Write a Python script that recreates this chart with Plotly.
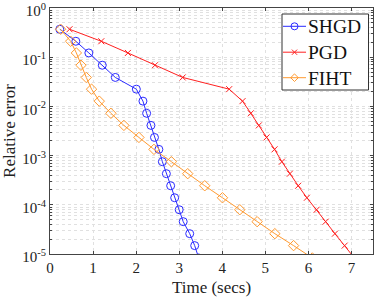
import plotly.graph_objects as go

# ---- data ----
shgd_t = [0.228, 0.600, 0.902, 1.214, 1.516, 2.005, 2.158, 2.244, 2.344, 2.426,
          2.528, 2.609, 2.702, 2.802, 2.895, 3.000, 3.093, 3.244, 3.360, 3.453]
shgd_err = [3.70e-1, 2.11e-1, 1.22e-1, 6.87e-2, 3.88e-2, 2.24e-2, 1.28e-2, 7.24e-3,
            4.11e-3, 2.34e-3, 1.34e-3, 7.52e-4, 4.29e-4, 2.44e-4, 1.39e-4, 7.94e-5,
            4.54e-5, 2.59e-5, 1.48e-5, 8.3e-6]

pgd_t = [0.453, 1.191, 1.809, 2.437, 3.081, 4.160, 4.470, 4.663, 4.849, 5.028,
         5.214, 5.384, 5.570, 5.763, 5.965, 6.191, 6.400, 6.616, 6.842, 7.067]
pgd_err = [3.70e-1, 2.11e-1, 1.22e-1, 6.87e-2, 3.88e-2, 2.24e-2, 1.28e-2, 7.24e-3,
           4.11e-3, 2.34e-3, 1.34e-3, 7.52e-4, 4.29e-4, 2.44e-4, 1.39e-4, 7.94e-5,
           4.54e-5, 2.59e-5, 1.48e-5, 8.3e-6]

fiht_t = [0.247, 0.479, 0.612, 0.719, 0.842, 0.965, 1.144, 1.414, 1.716, 2.065,
          2.414, 2.819, 3.198, 3.593, 4.005, 4.407, 4.809, 5.221, 5.656, 6.091]
fiht_err = [3.70e-1, 2.11e-1, 1.22e-1, 6.87e-2, 3.88e-2, 2.24e-2, 1.28e-2, 7.24e-3,
            4.11e-3, 2.34e-3, 1.34e-3, 7.52e-4, 4.29e-4, 2.44e-4, 1.39e-4, 7.94e-5,
            4.54e-5, 2.59e-5, 1.48e-5, 8.3e-6]

series_names = ["SHGD", "PGD", "FIHT"]

x_ticks = [0, 1, 2, 3, 4, 5, 6, 7]
y_ticks = [1, 1e-1, 1e-2, 1e-3, 1e-4, 1e-5]
y_tick_labels = ["10<sup>0</sup>", "10<sup>-1</sup>", "10<sup>-2</sup>",
                 "10<sup>-3</sup>", "10<sup>-4</sup>", "10<sup>-5</sup>"]

BLUE = "#2b2bff"
RED = "#ff2020"
ORANGE = "#ff9a30"
SERIF = "Liberation Serif, serif"
TXT = "#222222"
AX = "#444444"
colors = [BLUE, RED, ORANGE]
symbols = ["circle-open", "x-thin-open", "diamond-open"]
sizes = [8, 6, 8]

fig = go.Figure()
for name, xs, ys, c, s, sz in zip(series_names, [shgd_t, pgd_t, fiht_t],
                                  [shgd_err, pgd_err, fiht_err], colors, symbols, sizes):
    fig.add_trace(go.Scatter(
        x=xs, y=ys, name=name, mode="lines+markers", showlegend=False,
        line=dict(color=c, width=1),
        marker=dict(symbol=s, size=sz, color=c, line=dict(width=1, color=c))))

minor_y = []
for e in range(-5, 0):
    for m in range(2, 10):
        minor_y.append(m * 10 ** e)

# ---- legend drawn in paper coordinates ----
W_PLOT, H_PLOT, L, T = 323.0, 246.0, 50.0, 8.0
def px(xp):
    return (xp - L) / W_PLOT
def py(yp):
    return 1 - (yp - T) / H_PLOT

fig.add_shape(type="rect", xref="paper", yref="paper",
              x0=px(282), x1=px(368.5), y0=py(90), y1=py(14),
              fillcolor="white", line=dict(color="#333333", width=1), layer="above")
rows = [26.3, 52.2, 77.7]
cx = 294.5
for name, yy, c, kind in zip(series_names, rows, colors, ["circle", "x", "diamond"]):
    fig.add_shape(type="line", xref="paper", yref="paper",
                  x0=px(283), x1=px(306), y0=py(yy), y1=py(yy),
                  line=dict(color=c, width=1), layer="above")
    if kind == "circle":
        fig.add_shape(type="circle", xref="paper", yref="paper",
                      x0=px(cx - 3.5), x1=px(cx + 3.5), y0=py(yy + 3.5), y1=py(yy - 3.5),
                      line=dict(color=c, width=1), fillcolor="rgba(0,0,0,0)", layer="above")
    elif kind == "x":
        h = 2.6
        path = (f"M{px(cx - h)},{py(yy - h)} L{px(cx + h)},{py(yy + h)} "
                f"M{px(cx - h)},{py(yy + h)} L{px(cx + h)},{py(yy - h)}")
        fig.add_shape(type="path", xref="paper", yref="paper", path=path,
                      line=dict(color=c, width=1), layer="above")
    else:
        h = 3.8
        path = (f"M{px(cx)},{py(yy - h)} L{px(cx + h)},{py(yy)} "
                f"L{px(cx)},{py(yy + h)} L{px(cx - h)},{py(yy)} Z")
        fig.add_shape(type="path", xref="paper", yref="paper", path=path,
                      line=dict(color=c, width=1), fillcolor="rgba(0,0,0,0)", layer="above")
    fig.add_annotation(x=px(306), y=py(yy + 0.5), xref="paper", yref="paper",
                       text=name, showarrow=False, xanchor="left", yanchor="middle",
                       font=dict(family=SERIF, size=19.5, color="#111111"))

grid = "#e0e0e0"
fig.update_layout(
    width=374, height=298,
    margin=dict(l=50, r=1, t=8, b=44, autoexpand=False),
    paper_bgcolor="white", plot_bgcolor="white",
    font=dict(family=SERIF, size=15, color=TXT),
    showlegend=False,
)
fig.update_xaxes(
    range=[0, 7.5], tickvals=x_ticks, ticks="inside", ticklen=3, tickcolor=AX,
    showline=True, linecolor=AX, linewidth=1, mirror="ticks", automargin=False,
    showgrid=True, gridcolor=grid, griddash="dot", gridwidth=1, zeroline=False,
    tickfont=dict(family=SERIF, size=15, color=TXT), ticklabeloverflow="allow",
    title=dict(text="Time (secs)", font=dict(family=SERIF, size=17, color=TXT), standoff=6),
)
fig.update_yaxes(
    type="log", range=[-5, 0], tickvals=y_ticks, ticktext=y_tick_labels,
    ticks="inside", ticklen=3, tickcolor=AX, automargin=False,
    showline=True, linecolor=AX, linewidth=1, mirror="ticks",
    showgrid=True, gridcolor=grid, griddash="dot", gridwidth=1, zeroline=False,
    minor=dict(tickvals=minor_y, ticks="inside", ticklen=2, tickcolor=AX,
               showgrid=True, gridcolor=grid, griddash="dot", gridwidth=1),
    tickfont=dict(family=SERIF, size=15, color=TXT), ticklabeloverflow="allow",
    ticklabelshift=3,
    title=dict(text="Relative error", font=dict(family=SERIF, size=17, color=TXT), standoff=6),
)

fig.write_html("out.html", config={"displayModeBar": False},
               post_script="document.body.style.margin='0';document.body.style.padding='0';")
